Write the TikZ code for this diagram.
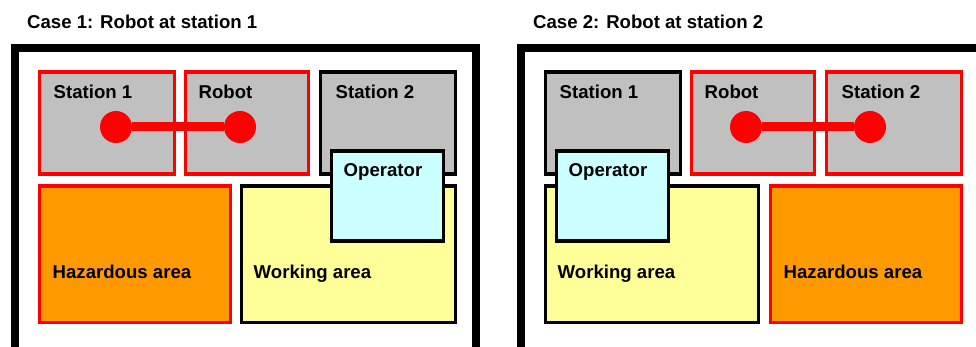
\documentclass[tikz,border=0pt]{standalone}
\usepackage{fontspec}
\setmainfont{Liberation Sans}
\usetikzlibrary{positioning}
\definecolor{areagray}{HTML}{C0C0C0}
\definecolor{hazardcol}{HTML}{FF9900}
\definecolor{workcol}{HTML}{FFFF99}
\definecolor{operatorcol}{HTML}{CCFFFF}
\definecolor{robotred}{HTML}{FF0000}

\tikzset{
  frame/.style={draw=black, line width=8.5pt},
  box/.style={rectangle, draw=black, line width=3.3pt, anchor=north west, inner sep=0pt},
  active/.style={draw=robotred},
  station/.style={box, fill=areagray, minimum width=135pt, minimum height=102pt},
  robotbox/.style={station, active, minimum width=123pt},
  hazard/.style={box, active, fill=hazardcol, minimum width=191pt, minimum height=136pt},
  working/.style={box, fill=workcol, minimum width=214pt, minimum height=136pt},
  operator/.style={box, fill=operatorcol, minimum width=112pt, minimum height=90pt},
  joint/.style={circle, fill=robotred, minimum size=32pt, inner sep=0pt},
  arm/.style={draw=robotred, line width=9pt},
  lbl/.style={anchor=base west, inner sep=0pt, font=\fontsize{18.6}{20}\selectfont\bfseries}
}

\begin{document}
\begin{tikzpicture}[x=1pt, y=-1pt]
  \useasboundingbox (0,0) rectangle (976,347);

  % case 1: robot at station 1
  \node[lbl] (title1) at (27,29) {Case 1: Robot at station 1};
  \draw[frame] (15,360) -- (15,48) -- (476,48) -- (476,360);

  \node[station, active] (st1a) at (37.5,70.5) {};
  \node[robotbox] (roba) at (183.5,70.5) {};
  \node[station] (st2a) at (318.5,70.5) {};
  \node[hazard] (haza) at (37.5,184.5) {};
  \node[working] (worka) at (239.5,184.5) {};
  \node[operator] (opa) at (329.5,149.5) {};

  \node[joint] (j1a) at (116,127) {};
  \node[joint] (j2a) at (240,127) {};
  \draw[arm] (j1a) -- (j2a);

  \node[lbl] (st1at) at ([shift={(16,28.5)}]st1a.north west) {Station 1};
  \node[lbl] (robat) at ([shift={(15,28.5)}]roba.north west) {Robot};
  \node[lbl] (st2at) at ([shift={(17,28.5)}]st2a.north west) {Station 2};
  \node[lbl] (hazat) at ([shift={(15,93.5)}]haza.north west) {Hazardous area};
  \node[lbl] (workat) at ([shift={(14,93.5)}]worka.north west) {Working area};
  \node[lbl] (opat) at ([shift={(14,27.5)}]opa.north west) {Operator};

  % case 2: robot at station 2
  \node[lbl] (title2) at (533,29) {Case 2: Robot at station 2};
  \draw[frame] (521,360) -- (521,48) -- (990,48);

  \node[station] (st1b) at (543.5,70.5) {};
  \node[robotbox] (robb) at (689.5,70.5) {};
  \node[station, active] (st2b) at (824.5,70.5) {};
  \node[working, minimum width=213pt] (workb) at (543.5,184.5) {};
  \node[hazard] (hazb) at (768.5,184.5) {};
  \node[operator] (opb) at (554.5,149.5) {};

  \node[joint] (j1b) at (746,127) {};
  \node[joint] (j2b) at (870,127) {};
  \draw[arm] (j1b) -- (j2b);

  \node[lbl] (st1bt) at ([shift={(16,28.5)}]st1b.north west) {Station 1};
  \node[lbl] (robbt) at ([shift={(15,28.5)}]robb.north west) {Robot};
  \node[lbl] (st2bt) at ([shift={(17,28.5)}]st2b.north west) {Station 2};
  \node[lbl] (workbt) at ([shift={(14,93.5)}]workb.north west) {Working area};
  \node[lbl] (hazbt) at ([shift={(15,93.5)}]hazb.north west) {Hazardous area};
  \node[lbl] (opbt) at ([shift={(14,27.5)}]opb.north west) {Operator};
\end{tikzpicture}
\end{document}
